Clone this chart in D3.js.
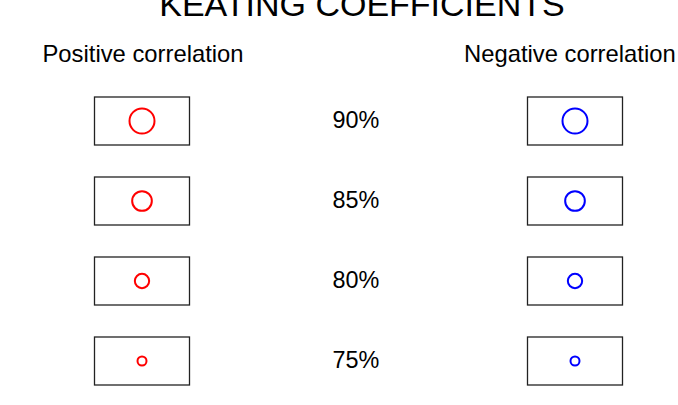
<!DOCTYPE html>
<html>
<head>
<meta charset="utf-8">
<script src="https://cdn.jsdelivr.net/npm/d3@7"></script>
<style>
  html, body { margin: 0; padding: 0; background: #fff; }
  svg { display: block; }
  text { font-family: "Liberation Sans", Arial, sans-serif; fill: #000; }
</style>
</head>
<body>
<svg id="chart" width="678" height="405"></svg>
<script>
// ---- data ----
const title = "KEATING COEFFICIENTS";
const columns = ["Positive correlation", "Negative correlation"];
const columnColors = ["#ff0000", "#0000ff"];
const levels = [90, 85, 80, 75];
const levelLabels = ["90%", "85%", "80%", "75%"];

// ---- layout ----
const W = 678, H = 405;
const svg = d3.select("#chart");

const y = d3.scalePoint().domain(levels).range([121, 361]);
const x = d3.scalePoint().domain(["pos", "label", "neg"]).range([142, 575]);
const r = d3.scaleLinear().domain([75, 90]).range([4.5, 12.5]);

const boxW = 95, boxH = 48;

svg.append("text")
  .attr("x", 362).attr("y", 16)
  .attr("text-anchor", "middle")
  .style("font-size", "34px")
  .text(title);

svg.append("text")
  .attr("x", 42.5).attr("y", 62)
  .style("font-size", "23.8px")
  .text(columns[0]);

svg.append("text")
  .attr("x", 464).attr("y", 62)
  .style("font-size", "23.8px")
  .text(columns[1]);

const sides = [{key: "pos", color: columnColors[0]}, {key: "neg", color: columnColors[1]}];

sides.forEach(s => {
  const g = svg.append("g");
  const rows = g.selectAll("g.row").data(levels).join("g")
    .attr("class", "row")
    .attr("transform", d => `translate(${s.key === "pos" ? x("pos") : x("neg")},${y(d)})`);
  rows.append("rect")
    .attr("x", -boxW / 2).attr("y", -boxH / 2)
    .attr("width", boxW).attr("height", boxH)
    .attr("fill", "#fff")
    .attr("stroke", "#222")
    .attr("stroke-width", 1.3);
  rows.append("circle")
    .attr("cx", 0).attr("cy", 0)
    .attr("r", d => r(d))
    .attr("fill", "none")
    .attr("stroke", s.color)
    .attr("stroke-width", 2);
});

svg.selectAll("text.lvl").data(levels).join("text")
  .attr("class", "lvl")
  .attr("x", 356)
  .attr("y", d => y(d) + 6.5)
  .attr("text-anchor", "middle")
  .style("font-size", "23.4px")
  .text((d, i) => levelLabels[i]);
</script>
</body>
</html>
